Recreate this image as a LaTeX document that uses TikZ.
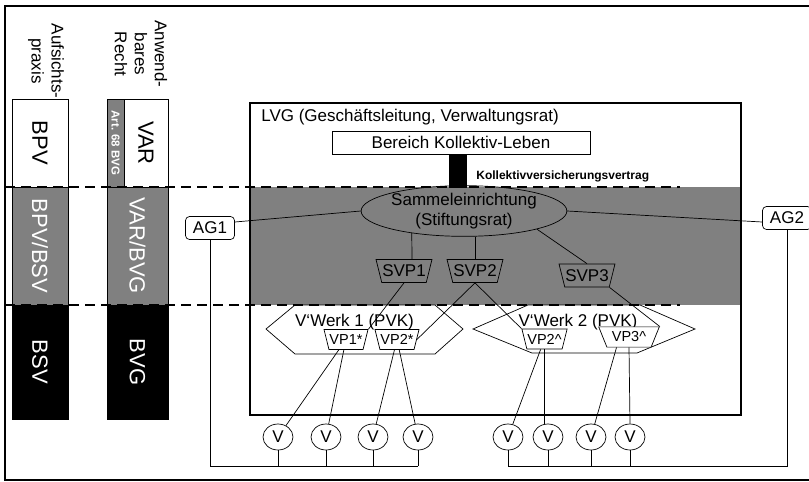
\documentclass[tikz,border=0pt]{standalone}
\usepackage{fontspec}
\setmainfont{Liberation Sans}
\usetikzlibrary{shapes.geometric}
\definecolor{bandgray}{RGB}{128,128,128}

\begin{document}
\begin{tikzpicture}[x=1pt,y=-1pt,line width=0.7pt,
  txt/.style={font=\fontsize{17}{20}\selectfont},
  coltxt/.style={rotate=-90,font=\fontsize{22}{26}\selectfont},
  sep/.style={line width=2.4pt,dash pattern=on 10pt off 6pt},
  svp/.style={trapezium,trapezium left angle=104,trapezium right angle=104,draw,inner xsep=0.5pt,inner ysep=5.5pt,txt},
  vp/.style={svp,fill=white,inner ysep=5pt,font=\fontsize{14.5}{17}\selectfont},
  vote/.style={ellipse,draw,minimum width=30pt,minimum height=26pt,inner sep=0pt,txt},
  ag/.style={draw,fill=white,rounded corners=4pt,inner xsep=7.5pt,minimum height=23pt,txt}]
  \useasboundingbox (0,0) rectangle (809,482);
  % frame, open on the right
  \draw[line width=2pt] (809,6) -- (5,6) -- (5,480) -- (809,480);
  % columns on the left
  \draw[fill=white] (12,99) rectangle (68,187);
  \draw[fill=bandgray] (12,187) rectangle (68,305);
  \draw[fill=black] (12,305) rectangle (68,419);
  \draw[fill=bandgray] (107,99) rectangle (124,187);
  \draw[fill=white] (124,99) rectangle (168,187);
  \draw[fill=bandgray] (107,187) rectangle (168,305);
  \draw[fill=black] (107,305) rectangle (168,419);
  \node[rotate=-90,align=center,txt] (auf) at (46,61) {Aufsichts-\\praxis};
  \node[rotate=-90,align=center,txt] (anw) at (141,54) {Anwend-\\bares\\Recht};
  \node[coltxt] (bpv) at (40,143) {BPV};
  \node[coltxt,text=white] (bpvbsv) at (40,246) {BPV/BSV};
  \node[coltxt,text=white] (bsv) at (40,362) {BSV};
  \node[rotate=-90,text=white,font=\bfseries\fontsize{11.5}{13}\selectfont] (art) at (115.5,143) {Art. 68 BVG};
  \node[coltxt] (var) at (146,143) {VAR};
  \node[coltxt,text=white] (varbvg) at (137.5,246) {VAR/BVG};
  \node[coltxt,text=white] (bvg) at (137.5,362) {BVG};
  % LVG box with the grey band
  \fill[bandgray] (250,187) rectangle (741,305);
  \draw[line width=2.2pt] (250,103) rectangle (741,415);
  \draw (266,329) -- (295,305) -- (435,305) -- (463,329) -- (435,354) -- (295,354) -- cycle;
  \draw (473,329) -- (528,305) -- (640,305) -- (695,329) -- (637,353) -- (532,353) -- cycle;
  \draw[sep] (5,187) -- (680,187);
  \draw[sep] (5,305) -- (680,305);
  \node[txt,anchor=west,inner sep=0pt] (lvg) at (261,117) {LVG (Geschäftsleitung, Verwaltungsrat)};
  \node[draw,fill=white,minimum width=258pt,minimum height=23pt,txt] (kl) at (461,142.5) {Bereich Kollektiv-Leben};
  \node[ellipse,draw,inner sep=0pt,align=center,txt] (se) at (464,211) {Sammeleinrichtung\\(Stiftungsrat)};
  \draw[line width=18pt] ([xshift=-3pt]kl.south) -- ([xshift=-6pt,yshift=-3pt]se.north);
  \node[font=\bfseries\fontsize{12}{14}\selectfont,anchor=west,inner sep=0pt] (kvv) at (476,176) {Kollektivversicherungsvertrag};
  \node[ag] (ag1) at (210,228) {AG1};
  \node[ag] (ag2) at (787,218) {AG2};
  \node[svp] (svp1) at (404,271) {SVP1};
  \node[svp] (svp2) at (475,271) {SVP2};
  \node[svp] (svp3) at (587,275.5) {SVP3};
  \node[txt] (pvk1) at (354.5,322) {V‘Werk 1 (PVK)};
  \node[txt] (pvk2) at (578,322) {V‘Werk 2 (PVK)};
  \node[vp] (vp1s) at (346,339.5) {VP1*};
  \node[vp] (vp2s) at (397,339.5) {VP2*};
  \node[vp] (vp2h) at (544.5,339) {VP2\textasciicircum};
  \node[vp,inner xsep=5pt,trapezium left angle=112,trapezium right angle=112] (vp3h) at (629,337) {VP3\textasciicircum};
  \foreach \x [count=\i] in {278,326,373,418,508,548,591,630}
    \node[vote] (v\i) at (\x,437) {V};
  % connectors
  \draw (se.west) -- ([yshift=6pt]ag1.east);
  \draw (se.east) -- ([yshift=-4pt]ag2.west);
  \draw (se.203) -- ([xshift=8pt]svp1.north);
  \draw (svp2.north) -- (svp2.north |- se.south);
  \draw (se.346) -- (svp3.north);
  \draw (svp1.south) -- (vp1s.top right corner);
  \draw (svp2.south) -- (vp2s.east);
  \draw (svp2.south) -- (vp2h.top left corner);
  \draw (svp3.bottom right corner) -- (vp3h.top right corner);
  \draw (vp1s) -- (v1);
  \draw (vp1s) -- (v2);
  \draw (vp2s) -- (v3);
  \draw (vp2s) -- (v4);
  \draw (vp2h) -- (v5);
  \draw (vp2h.south) -- (vp2h.south |- v6.north);
  \draw (vp3h.220) -- (v7);
  \draw (vp3h.south) -- (v8.north);
  \coordinate (bus) at (0,466);
  \draw (ag1.south) |- (v4.south |- bus);
  \draw (ag2.south) |- (v5.south |- bus);
  \foreach \i in {1,...,8}
    \draw (v\i.south) -- (v\i.south |- bus);
\end{tikzpicture}
\end{document}
